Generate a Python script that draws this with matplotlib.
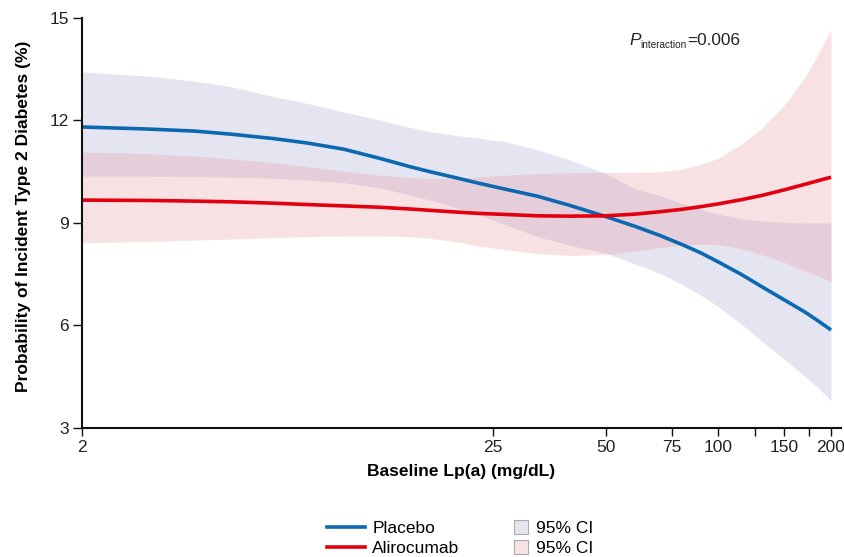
import matplotlib
matplotlib.use("Agg")
import matplotlib.pyplot as plt
from matplotlib.lines import Line2D

plt.rcParams['font.family'] = ['Liberation Sans', 'DejaVu Sans']

# Baseline Lp(a) values (mg/dL) where curves were read
lpa = [2, 3, 4, 5, 6.5, 8, 10, 12.5, 15, 17, 20, 23, 27, 33, 40, 50,
       60, 70, 80, 90, 100, 115, 130, 150, 170, 185, 200]

placebo = [11.81, 11.75, 11.69, 11.6, 11.47, 11.34, 11.16, 10.89, 10.65, 10.5,
           10.32, 10.16, 9.99, 9.78, 9.52, 9.19, 8.9, 8.63, 8.37, 8.12,
           7.86, 7.5, 7.15, 6.75, 6.4, 6.13, 5.87]
placebo_hi = [13.42, 13.3, 13.15, 12.99, 12.7, 12.5, 12.25, 12.01, 11.8, 11.67,
              11.56, 11.48, 11.38, 11.14, 10.85, 10.45, 10.0, 9.8, 9.58, 9.4,
              9.26, 9.13, 9.06, 9.02, 9.0, 9.0, 9.0]
placebo_lo = [10.37, 10.37, 10.36, 10.34, 10.31, 10.26, 10.18, 10.03, 9.82, 9.67,
              9.45, 9.23, 8.95, 8.6, 8.35, 8.12, 7.8, 7.52, 7.2, 6.88,
              6.55, 6.05, 5.56, 5.02, 4.52, 4.17, 3.8]

aliro = [9.67, 9.66, 9.64, 9.62, 9.58, 9.54, 9.5, 9.46, 9.41, 9.37,
         9.32, 9.28, 9.25, 9.21, 9.2, 9.21, 9.26, 9.33, 9.4, 9.48,
         9.56, 9.68, 9.8, 9.97, 10.13, 10.24, 10.34]
aliro_hi = [11.08, 11.03, 10.96, 10.88, 10.77, 10.65, 10.52, 10.4, 10.33, 10.3,
            10.31, 10.35, 10.4, 10.45, 10.47, 10.48, 10.48, 10.5, 10.58, 10.72,
            10.9, 11.3, 11.75, 12.45, 13.25, 13.95, 14.65]
aliro_lo = [8.42, 8.46, 8.5, 8.53, 8.57, 8.6, 8.62, 8.62, 8.6, 8.55,
            8.45, 8.32, 8.22, 8.1, 8.05, 8.08, 8.18, 8.28, 8.35, 8.38,
            8.37, 8.25, 8.08, 7.85, 7.6, 7.45, 7.28]

xticks = [2, 25, 50, 75, 100, 125, 150, 175, 200]
xticklabels = ['2', '25', '50', '75', '100', '', '150', '', '200']
yticks = [3, 6, 9, 12, 15]

blue = '#0b68b1'
red = '#e2000f'
blue_band = '#e5e5f1'
red_band_c = '#e78b93'

fig = plt.figure(figsize=(8.45, 5.57), dpi=100)
ax = fig.add_axes([0.097, 0.2316, 0.8977, 0.7361])

ax.fill_between(lpa, placebo_lo, placebo_hi, color=blue_band, lw=0)
ax.fill_between(lpa, aliro_lo, aliro_hi, color=red_band_c, alpha=0.25, lw=0)
ax.plot(lpa, placebo, color=blue, lw=2.6, solid_capstyle='butt')
ax.plot(lpa, aliro, color=red, lw=2.6, solid_capstyle='butt')

ax.set_xscale('log')
ax.set_xlim(2, 212)
ax.set_ylim(3, 15)
ax.set_xticks(xticks)
ax.set_xticklabels(xticklabels)
ax.xaxis.set_minor_locator(matplotlib.ticker.NullLocator())
ax.set_yticks(yticks)

for s in ['top', 'right']:
    ax.spines[s].set_visible(False)
for s in ['left', 'bottom']:
    ax.spines[s].set_linewidth(1.5)
    ax.spines[s].set_color('#111111')
ax.tick_params(axis='x', length=6, width=1, labelsize=12.5, pad=3, colors='#111111')
ax.tick_params(axis='y', length=6.5, width=1, labelsize=12.5, pad=3, colors='#111111')
ax.tick_params(labelcolor='#222222')

ax.set_xlabel('Baseline Lp(a) (mg/dL)', fontsize=12.5, fontweight='bold', labelpad=6)
ax.set_ylabel('Probability of Incident Type 2 Diabetes (%)', fontsize=12.5,
              fontweight='bold', labelpad=13.5)
ax.yaxis.label.set_y(0.517)

# P_interaction annotation built from three pieces
t1 = ax.text(57.8, 14.21, 'P', fontsize=12.4, style='italic', va='baseline',
             ha='left', color='#222222')
t2 = ax.annotate('interaction', xy=(1, 0), xycoords=t1, xytext=(0, -1.8),
                 textcoords='offset points', fontsize=7.2, va='bottom',
                 ha='left', color='#222222')
ax.annotate('=0.006', xy=(1, 0), xycoords=(t2, t1), fontsize=12.4,
            va='bottom', ha='left', color='#222222')

h1 = [Line2D([], [], color=blue, lw=2.6), Line2D([], [], color=red, lw=2.6)]
fig.legend(h1, ['Placebo', 'Alirocumab'], loc='upper left',
           bbox_to_anchor=(0.387, 0.0646), frameon=False, fontsize=12.5,
           handlelength=2.2, handletextpad=0.4, labelspacing=0.26,
           borderpad=0, borderaxespad=0)
h2 = [Line2D([], [], ls='none', marker='s', ms=10, mfc=blue_band, mec='#aaaaaa', mew=0.8),
      Line2D([], [], ls='none', marker='s', ms=10, mfc='#f9e2e4', mec='#aaaaaa', mew=0.8)]
fig.legend(h2, ['95% CI', '95% CI'], loc='upper left',
           bbox_to_anchor=(0.606, 0.0646), frameon=False, fontsize=12.5,
           handlelength=1.0, handletextpad=0.4, labelspacing=0.26,
           borderpad=0, borderaxespad=0)

fig.savefig('out.png', dpi=100)
